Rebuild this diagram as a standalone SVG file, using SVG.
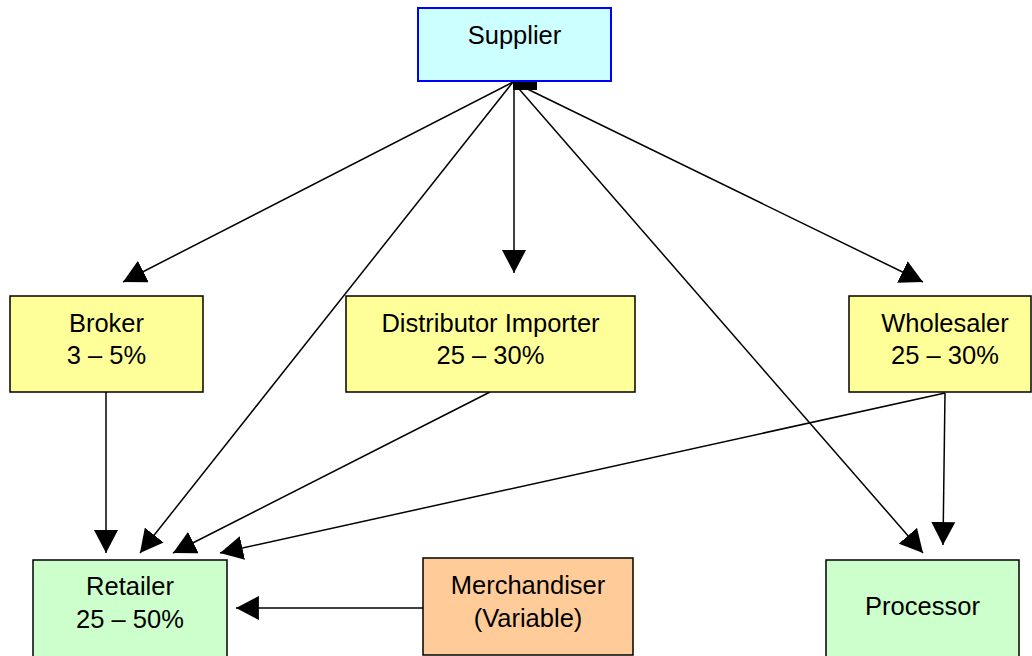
<svg xmlns="http://www.w3.org/2000/svg" width="1032" height="656" viewBox="0 0 1032 656">
<defs>
<marker id="arr" markerUnits="userSpaceOnUse" markerWidth="24" markerHeight="24" viewBox="0 0 22 22" refX="21" refY="11" orient="auto">
<path d="M0,0 L21,11 L0,22 Z" fill="#000"/>
</marker>
</defs>
<style>
.box{stroke:#000;stroke-width:1.5}
.t{font-family:"Liberation Sans",Arial,sans-serif;font-size:25.5px;fill:#000;text-anchor:middle}
.c{stroke:#000;stroke-width:1.5;fill:none;marker-end:url(#arr)}
</style>
<rect width="1032" height="656" fill="#fff"/>
<g id="connectors">
<line class="c" x1="513" y1="82" x2="123" y2="282"/>
<line class="c" x1="513" y1="82" x2="140" y2="553"/>
<line class="c" x1="514" y1="82" x2="514" y2="273"/>
<line class="c" x1="513" y1="82" x2="923" y2="553"/>
<line class="c" x1="513" y1="82" x2="923" y2="282"/>
<line class="c" x1="106" y1="392" x2="106" y2="553"/>
<line class="c" x1="490" y1="392" x2="173" y2="553"/>
<line class="c" x1="945" y1="393" x2="220" y2="553"/>
<line class="c" x1="423" y1="608" x2="236" y2="608"/>
<line class="c" x1="945" y1="393" x2="943" y2="545"/>
</g>
<g id="supplier">
<rect x="418" y="8" width="193" height="73" fill="#ccffff" stroke="#0000ff" stroke-width="2"/>
<rect x="513" y="82" width="24" height="8" fill="#000"/>
<text class="t" x="514.5" y="44">Supplier</text>
</g>
<g id="broker">
<rect class="box" x="10" y="296" width="193" height="96" fill="#ffff99"/>
<text class="t" x="106.5" y="332">Broker</text>
<text class="t" x="106.5" y="364">3 – 5%</text>
</g>
<g id="distributor">
<rect class="box" x="346" y="296" width="289" height="96" fill="#ffff99"/>
<text class="t" x="490.5" y="332">Distributor Importer</text>
<text class="t" x="490.5" y="364">25 – 30%</text>
</g>
<g id="wholesaler">
<rect class="box" x="849" y="296" width="182" height="96" fill="#ffff99"/>
<text class="t" x="945" y="332">Wholesaler</text>
<text class="t" x="945" y="364">25 – 30%</text>
</g>
<g id="retailer">
<rect class="box" x="33" y="560" width="194" height="100" fill="#ccffcc"/>
<text class="t" x="130" y="595">Retailer</text>
<text class="t" x="130" y="628">25 – 50%</text>
</g>
<g id="merchandiser">
<rect class="box" x="423" y="558" width="210" height="97" fill="#ffcc99"/>
<text class="t" x="528" y="594">Merchandiser</text>
<text class="t" x="528" y="627">(Variable)</text>
</g>
<g id="processor">
<rect class="box" x="826" y="560" width="193" height="100" fill="#ccffcc"/>
<text class="t" x="922.5" y="615">Processor</text>
</g>
</svg>
